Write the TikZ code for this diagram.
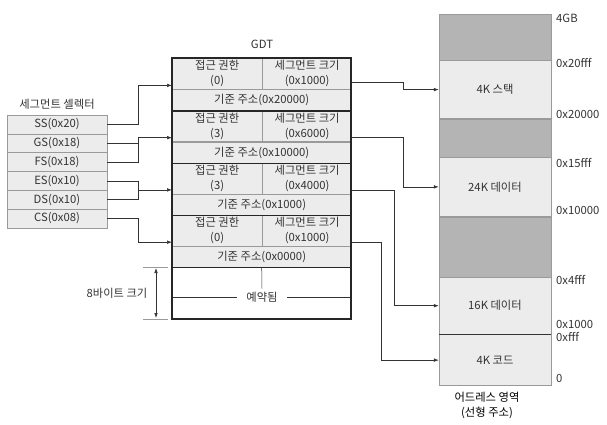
\documentclass[tikz,border=0pt]{standalone}
\usepackage{fontspec}
\setmainfont{Noto Sans CJK KR}
\usetikzlibrary{arrows.meta,calc}

\definecolor{cellgray}{HTML}{ECECEC}
\definecolor{darkgray}{HTML}{B4B4B4}
\definecolor{edgegray}{HTML}{9A9A9A}
\definecolor{inkgray}{HTML}{333333}

\tikzset{
  txt/.style={font=\fontsize{11.3}{15}\selectfont, text=inkgray, inner sep=1pt},
  selrow/.style={txt, draw=edgegray, fill=cellgray, minimum width=100pt, minimum height=18.8pt, inner sep=0pt},
  cell/.style={txt, draw=edgegray, fill=cellgray, inner sep=0pt, align=center},
  region/.style={txt, draw=edgegray, minimum width=112pt, inner sep=0pt},
  conn/.style={draw=inkgray, line width=0.6pt},
  arr/.style={conn, -{Latex[length=5pt,width=3.6pt]}},
}

\begin{document}
\begin{tikzpicture}[x=1pt, y=-1pt]
\useasboundingbox (0,0) rectangle (607,425);

% ==== SEGMENT SELECTORS ====
\node[txt] (seltitle) at (57,104) {세그먼트 셀렉터};
\foreach \name/\lab [count=\i] in {ss/SS(0x20), gs/GS(0x18), fs/FS(0x18), es/ES(0x10), ds/DS(0x10), cs/CS(0x08)}{
    \node[selrow] (\name) at (57,{115+18.8*(\i-0.5)}) {\lab};
}

% ==== GDT ====
\node[txt] (gdttitle) at (262,44) {GDT};
\foreach \acc/\size/\base [count=\k] in {0/0x1000/0x20000, 3/0x6000/0x10000, 3/0x4000/0x1000, 0/0x1000/0x0000}{
    \pgfmathsetmacro{\top}{58+52.25*(\k-1)}
    \node[cell, minimum width=90pt, minimum height=31pt, anchor=north west] (acc\k) at (172,\top) {접근 권한\\(\acc)};
    \node[cell, minimum width=89pt, minimum height=31pt, anchor=north west] (size\k) at (acc\k.north east) {세그먼트 크기\\(\size)};
    \node[cell, minimum width=179pt, minimum height=21.25pt, anchor=north west] (base\k) at (acc\k.south west) {기준 주소(\base)};
    \coordinate (in\k) at ($(acc\k.south west)+(0,-4)$);
    \coordinate (out\k) at ($(size\k.south east)+(0,-4)$);
}
\coordinate (out1) at ($(size1.south east)+(0,-7.5)$);

% reserved entry
\draw[line width=0.5pt, inkgray] (172,297) -- (351,297);
\node[txt, fill=white, inner xsep=9pt, inner ysep=3pt] (rsv) at (262,297) {예약됨};
\draw[line width=0.5pt, inkgray] (base4.south) -- (rsv.north);

% thick frame and entry separators
\draw[line width=1.1pt, black!85] (172,58) rectangle (351,319);
\foreach \k in {1,2,3,4}{
    \draw[line width=1.1pt, black!85] (base\k.south west) -- (base\k.south east);
}

% ==== 8 BYTE SIZE ====
\draw[edgegray, line width=0.8pt] (143,267) -- (168,267);
\draw[edgegray, line width=0.8pt] (143,319) -- (168,319);
\draw[conn, {Latex[length=5pt,width=3.6pt]}-{Latex[length=5pt,width=3.6pt]}] (156,268) -- (156,318);
\node[txt] (bytesize) at (117,293) {8바이트 크기};

% ==== ADDRESS SPACE ====
\node[region, fill=darkgray, minimum height=46pt, anchor=north] (r4gb) at (495,14) {};
\node[region, fill=cellgray, minimum height=58pt, anchor=north] (stack) at (r4gb.south) {4K 스택};
\node[region, fill=darkgray, minimum height=38pt, anchor=north] (gap1) at (stack.south) {};
\node[region, fill=cellgray, minimum height=59pt, anchor=north] (data24) at (gap1.south) {24K 데이터};
\node[region, fill=darkgray, minimum height=60pt, anchor=north] (gap2) at (data24.south) {};
\node[region, fill=cellgray, minimum height=57pt, anchor=north] (data16) at (gap2.south) {16K 데이터};
\node[region, fill=cellgray, minimum height=51pt, anchor=north] (code) at (data16.south) {4K 코드};
\draw[inkgray, line width=0.5pt] (code.north west) -- (code.north east);

\foreach \lab/\y in {4GB/18, 0x20fff/63, 0x20000/114, 0x15fff/163, 0x10000/210, 0x4fff/280, 0x1000/324, 0xfff/337, 0/378}{
    \node[txt, anchor=west] at (555,\y) {\lab};
}
\node[txt, text=black, align=center] (addrtitle) at (487,405) {어드레스 영역\\(선형 주소)};

% ==== SELECTOR -> GDT ====
\draw[arr] (ss.east) -- ++(31,0) |- (in1);
\draw[conn] (gs.east) -- ++(31,0);
\draw[arr] (fs.east) -- ++(31,0) |- (in2);
\draw[conn] (es.east) -- ++(31,0) coordinate (jes) |- (ds.east);
\draw[arr] (jes |- in3) -- (in3);
\draw[arr] (cs.east) -- ++(31,0) |- (in4);

% ==== GDT -> ADDRESS SPACE ====
\draw[arr] (out1) -- ++(51,0) |- (stack.west);
\draw[arr] (out2) -- ++(51,0) |- (data24.west);
\draw[arr] (out3) -- ++(42,0) |- (data16.west);
\draw[arr] (out4) -- ++(29,0) |- (code.west);

\end{tikzpicture}
\end{document}
